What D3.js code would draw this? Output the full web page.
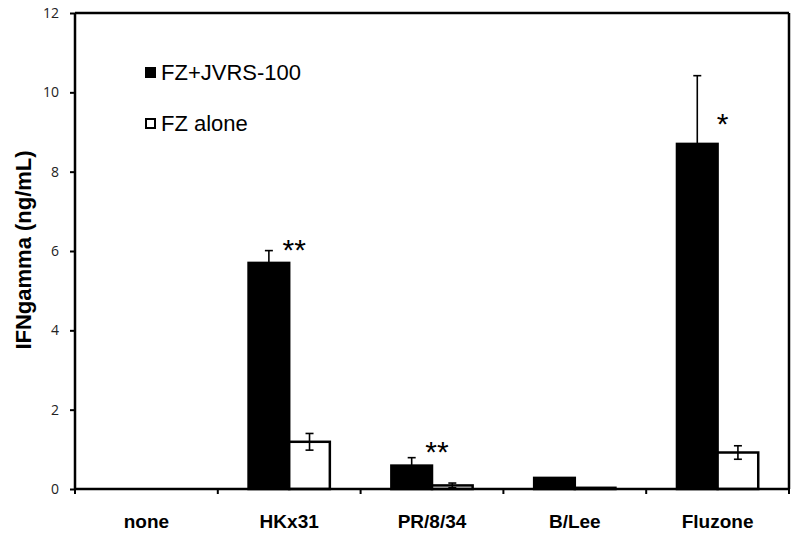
<!DOCTYPE html>
<html>
<head>
<meta charset="utf-8">
<script src="https://cdn.jsdelivr.net/npm/d3@7"></script>
<style>
  body { margin: 0; background: #fff; }
  text { font-family: "Liberation Sans", Arial, sans-serif; }
</style>
</head>
<body>
<svg id="chart" width="800" height="533"></svg>
<script>
// DATA
const categories = ["none", "HKx31", "PR/8/34", "B/Lee", "Fluzone"];
const seriesNames = ["FZ+JVRS-100", "FZ alone"];
const withAdjuvant = [0, 5.70, 0.59, 0.28, 8.70];
const withAdjuvantErr = [0, 0.31, 0.20, 0, 1.72];
const fzAlone = [0, 1.19, 0.09, 0.03, 0.92];
const fzAloneErr = [0, 0.21, 0.06, 0, 0.17];
const yTicks = [0, 2, 4, 6, 8, 10, 12];
// significance marks: category, label, baseline position (data units)
const stars = [
  { cat: "HKx31", label: "**", y: 5.77 },
  { cat: "PR/8/34", label: "**", y: 0.69 },
  { cat: "Fluzone", label: "*", y: 8.95 }
];

// SETUP
const margin = { top: 13, right: 11, bottom: 44, left: 75 },
      width = 800 - margin.left - margin.right,
      height = 533 - margin.top - margin.bottom;

const svg = d3.select("#chart")
  .append("g")
  .attr("transform", `translate(${margin.left},${margin.top})`);

// build rows for drawing
const rows = categories.map((c, i) => ({
  cat: c,
  bars: [
    { s: seriesNames[0], v: withAdjuvant[i], e: withAdjuvantErr[i] },
    { s: seriesNames[1], v: fzAlone[i], e: fzAloneErr[i] }
  ]
}));

// SCALES
const x0 = d3.scaleBand().domain(categories).range([0, width]).padding(0);
const x1 = d3.scaleBand().domain(seriesNames).range([0, x0.bandwidth()])
  .paddingInner(0).paddingOuter(0.757);
const y = d3.scaleLinear().domain([0, 12]).range([height, 0]);
const fill = d3.scaleOrdinal().domain(seriesNames).range(["#000", "#fff"]);

// BARS
const groups = svg.selectAll(".grp")
  .data(rows)
  .enter()
  .append("g")
  .attr("transform", d => `translate(${x0(d.cat)},0)`);

groups.selectAll("rect")
  .data(d => d.bars)
  .enter()
  .append("rect")
  .attr("x", d => x1(d.s))
  .attr("y", d => y(d.v))
  .attr("width", x1.bandwidth())
  .attr("height", d => height - y(d.v))
  .attr("fill", d => fill(d.s))
  .attr("stroke", "#000")
  .attr("stroke-width", d => d.v > 0 ? 2.5 : 0);

// ERROR BARS
const errs = groups.selectAll(".err")
  .data(d => d.bars.filter(b => b.e > 0))
  .enter()
  .append("g")
  .attr("stroke", "#000")
  .attr("stroke-width", 1.6);

const cx = d => x1(d.s) + x1.bandwidth() / 2;
errs.append("line")
  .attr("x1", cx).attr("x2", cx)
  .attr("y1", d => y(d.v + d.e)).attr("y2", d => y(d.v - d.e));
errs.append("line")
  .attr("x1", d => cx(d) - 4).attr("x2", d => cx(d) + 4)
  .attr("y1", d => y(d.v + d.e)).attr("y2", d => y(d.v + d.e));
errs.append("line")
  .attr("x1", d => cx(d) - 4).attr("x2", d => cx(d) + 4)
  .attr("y1", d => y(d.v - d.e)).attr("y2", d => y(d.v - d.e));

// STARS
svg.selectAll(".star")
  .data(stars)
  .enter()
  .append("text")
  .attr("x", d => x0(d.cat) + x0.bandwidth() / 2 + 5)
  .attr("y", d => y(d.y))
  .attr("text-anchor", "middle")
  .style("font-size", "30px")
  .text(d => d.label);

// AXES
// frame top and right
svg.append("line")
  .attr("x1", 0).attr("x2", width).attr("y1", 0).attr("y2", 0)
  .attr("stroke", "#000").attr("stroke-width", 2.5);
svg.append("line")
  .attr("x1", width).attr("x2", width).attr("y1", 0).attr("y2", height)
  .attr("stroke", "#000").attr("stroke-width", 2.5);

const yAxis = svg.append("g")
  .call(d3.axisLeft(y).tickValues(yTicks).tickSize(5).tickPadding(11));
yAxis.select(".domain").attr("stroke-width", 2.5).attr("d", `M0,${height}V0`);
yAxis.selectAll(".tick line").attr("stroke-width", 2);
yAxis.selectAll(".tick text")
  .style("font-family", "'Open Sans', sans-serif")
  .style("font-size", "14px")
  .attr("fill", "#222");

// x axis with ticks at category boundaries
const xAxis = svg.append("g")
  .attr("transform", `translate(0,${height})`)
  .call(d3.axisBottom(x0).tickSize(0).tickPadding(26));
xAxis.select(".domain").attr("stroke-width", 2.5).attr("d", `M0,0H${width}`);
xAxis.selectAll(".tick text")
  .style("font-size", "19px")
  .style("font-weight", "bold")
  .attr("fill", "#000");
xAxis.selectAll(".bound")
  .data(categories)
  .enter()
  .append("line")
  .attr("x1", d => x0(d)).attr("x2", d => x0(d))
  .attr("y1", 0).attr("y2", 5)
  .attr("stroke", "#000").attr("stroke-width", 2);
xAxis.append("line")
  .attr("x1", width).attr("x2", width).attr("y1", 0).attr("y2", 5)
  .attr("stroke", "#000").attr("stroke-width", 2);

// Y LABEL
svg.append("text")
  .attr("transform", "rotate(-90)")
  .attr("x", -(250 - margin.top))
  .attr("y", 31 - margin.left)
  .attr("text-anchor", "middle")
  .style("font-size", "22px")
  .style("font-weight", "bold")
  .text("IFNgamma (ng/mL)");

// LEGEND
const legend = svg.selectAll(".leg")
  .data(seriesNames)
  .enter()
  .append("g")
  .attr("transform", (d, i) => `translate(${145 - margin.left},${80 + i * 51 - margin.top})`);
legend.append("rect")
  .attr("x", 1).attr("y", -12)
  .attr("width", 9).attr("height", 9)
  .attr("fill", d => fill(d))
  .attr("stroke", "#000").attr("stroke-width", 2);
legend.append("text")
  .attr("x", 16)
  .attr("y", 0)
  .style("font-size", "22px")
  .text(d => d);
</script>
</body>
</html>
